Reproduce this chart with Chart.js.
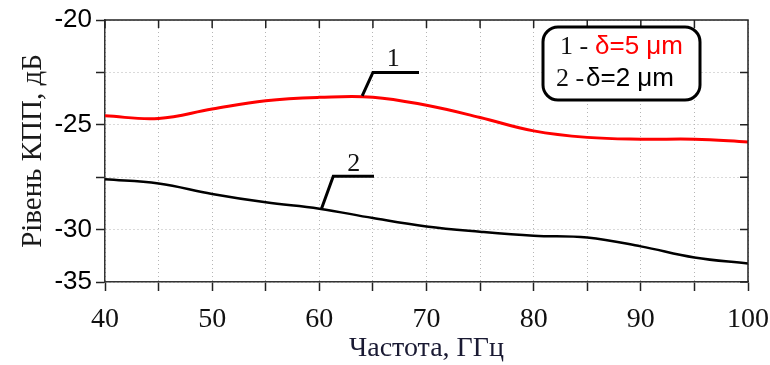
<!DOCTYPE html>
<html>
<head>
<meta charset="utf-8">
<script src="https://cdn.jsdelivr.net/npm/chart.js@4/dist/chart.umd.min.js"></script>
<style>
  html, body { margin: 0; padding: 0; background: #fff; }
</style>
</head>
<body>
<canvas id="chart" width="770" height="365"></canvas>
<script>
// frequency, GHz
const freq = [40, 45, 50, 55, 60, 65, 70, 75, 80, 85, 90, 95, 100];
// level, dB
const level5um = [-24.57, -24.70, -24.25, -23.85, -23.69, -23.68, -24.07, -24.65, -25.29, -25.60, -25.69, -25.69, -25.82];
const level2um = [-27.60, -27.80, -28.30, -28.70, -29.00, -29.45, -29.85, -30.10, -30.29, -30.38, -30.80, -31.33, -31.62];

const xLabelValues = [40, 50, 60, 70, 80, 90, 100];
const yTickValues = [-20, -25, -30, -32.5];
const yTickLabels = ['-20', '-25', '-30', '-35'];

const seriesNumbers = ['1', '2'];
const seriesNames = ['δ=5 μm', 'δ=2 μm'];
const seriesColors = ['#ff0000', '#000000'];

// leader lines for the curve numbers, in data units
const markerLines = [
  { label: '1', points: [[64.0, -23.62], [65.0, -22.5], [69.3, -22.5]], at: [66.9, -21.85] },
  { label: '2', points: [[60.2, -29.0], [61.3, -27.45], [65.1, -27.45]], at: [63.2, -26.9] }
];

const toXY = (xs, ys) => xs.map((v, i) => ({ x: v, y: ys[i] }));

const framePlugin = {
  id: 'frame',
  afterDraw(chart) {
    const { ctx, chartArea: a, scales: { x, y } } = chart;
    ctx.save();
    // top and right border with inward ticks
    ctx.strokeStyle = '#222';
    ctx.lineWidth = 1.5;
    ctx.beginPath();
    ctx.moveTo(a.left, a.top);
    ctx.lineTo(a.right, a.top);
    ctx.lineTo(a.right, a.bottom);
    x.ticks.forEach(t => {
      const px = x.getPixelForValue(t.value);
      ctx.moveTo(px, a.top);
      ctx.lineTo(px, a.top + 8);
    });
    y.ticks.forEach(t => {
      const py = y.getPixelForValue(t.value);
      ctx.moveTo(a.right, py);
      ctx.lineTo(a.right - 8, py);
    });
    ctx.stroke();

    // curve number leaders
    ctx.lineWidth = 3;
    ctx.strokeStyle = '#000';
    markerLines.forEach(m => {
      ctx.beginPath();
      m.points.forEach((p, i) => {
        const px = x.getPixelForValue(p[0]), py = y.getPixelForValue(p[1]);
        if (i === 0) ctx.moveTo(px, py); else ctx.lineTo(px, py);
      });
      ctx.stroke();
      ctx.fillStyle = '#111';
      ctx.font = '26px "Liberation Serif"';
      ctx.textAlign = 'center';
      ctx.textBaseline = 'middle';
      ctx.fillText(m.label, x.getPixelForValue(m.at[0]), y.getPixelForValue(m.at[1]));
    });

    // legend box
    const bx = 543, by = 27, bw = 157, bh = 73, r = 15;
    ctx.lineWidth = 3;
    ctx.fillStyle = '#fff';
    ctx.beginPath();
    ctx.roundRect(bx, by, bw, bh, r);
    ctx.fill();
    ctx.stroke();
    ctx.textAlign = 'left';
    ctx.textBaseline = 'middle';
    const rows = [{ y: 47, numX: 560, nameX: 595 }, { y: 79, numX: 556, nameX: 586 }];
    rows.forEach((row, i) => {
      ctx.fillStyle = '#111';
      ctx.font = '26px "Liberation Serif"';
      ctx.fillText(seriesNumbers[i] + ' -', row.numX, row.y);
      ctx.fillStyle = seriesColors[i];
      ctx.font = '26px "Liberation Sans"';
      ctx.fillText(seriesNames[i], row.nameX, row.y);
    });
    ctx.restore();
  }
};

new Chart(document.getElementById('chart'), {
  type: 'line',
  data: {
    datasets: [
      {
        label: seriesNames[0],
        data: toXY(freq, level5um),
        borderColor: seriesColors[0],
        borderWidth: 3,
        pointRadius: 0,
        tension: 0.4
      },
      {
        label: seriesNames[1],
        data: toXY(freq, level2um),
        borderColor: seriesColors[1],
        borderWidth: 2.5,
        pointRadius: 0,
        tension: 0.4
      }
    ]
  },
  options: {
    responsive: false,
    animation: false,
    devicePixelRatio: 1,
    layout: { padding: { left: 0, right: 22, top: 20, bottom: 0 } },
    plugins: { legend: { display: false }, tooltip: { enabled: false } },
    scales: {
      x: {
        type: 'linear',
        min: 40,
        max: 100,
        afterFit: s => { s.height = 83; s.paddingRight = 0; s.paddingLeft = 0; },
        ticks: {
          stepSize: 5,
          autoSkip: false,
          maxRotation: 0,
          padding: 12,
          color: '#111',
          font: { family: 'Liberation Serif', size: 28 },
          callback: v => xLabelValues.includes(v) ? v : ''
        },
        grid: { color: '#b5b5b5', lineWidth: 1, tickLength: 9, tickColor: '#222', tickWidth: 1.5, tickBorderDash: [] },
        border: { display: true, color: '#333', width: 1.5, dash: [1, 3] },
        title: {
          display: true,
          text: 'Частота, ГГц',
          color: '#1a1a33',
          font: { family: 'Liberation Serif', size: 28 },
          padding: { top: 0, bottom: 0 }
        }
      },
      y: {
        min: -32.5,
        max: -20,
        afterFit: s => { s.width = 105; s.paddingTop = 0; s.paddingBottom = 0; },
        ticks: {
          stepSize: 2.5,
          autoSkip: false,
          padding: 4,
          color: '#000',
          font: { family: 'Liberation Sans', size: 26 },
          callback: v => {
            const i = yTickValues.findIndex(t => Math.abs(t - v) < 1e-6);
            return i < 0 ? '' : yTickLabels[i];
          }
        },
        grid: { color: '#b5b5b5', lineWidth: 1, tickLength: 9, tickColor: '#222', tickWidth: 1.5, tickBorderDash: [] },
        border: { display: true, color: '#333', width: 1.5, dash: [1, 3] },
        title: {
          display: true,
          text: 'Рівень КПП, дБ',
          color: '#1a1a1a',
          font: { family: 'Liberation Serif', size: 29 },
          padding: { top: 16, bottom: 0 }
        }
      }
    }
  },
  plugins: [framePlugin]
});
</script>
</body>
</html>
